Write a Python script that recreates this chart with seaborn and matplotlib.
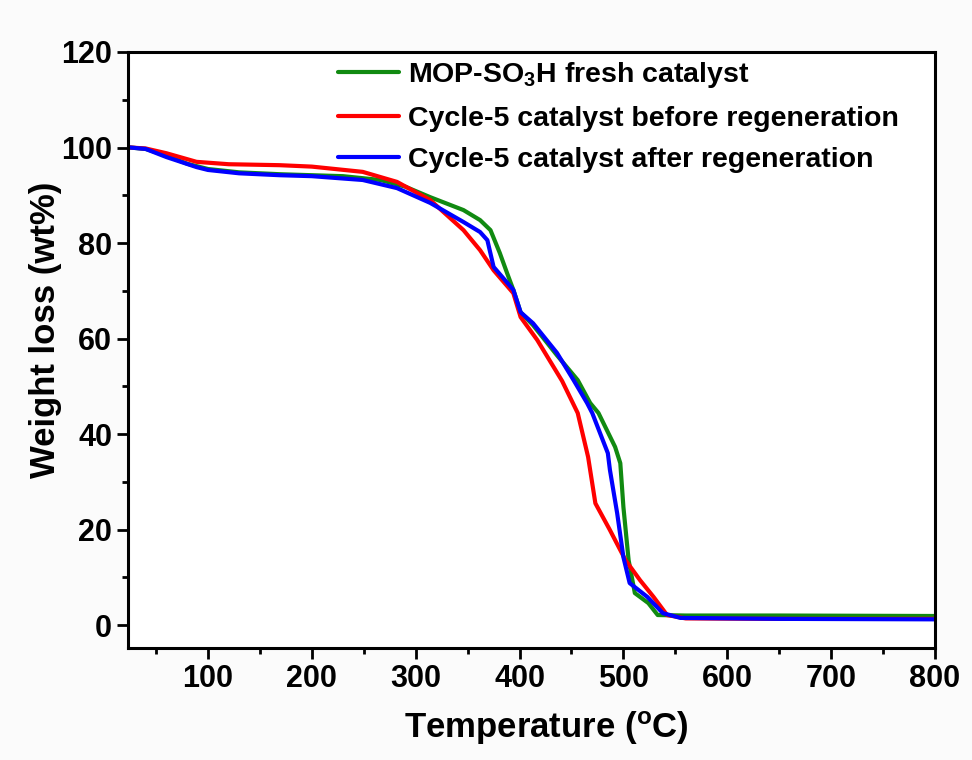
import numpy as np
import pandas as pd
import matplotlib
matplotlib.use("Agg")
import matplotlib.pyplot as plt
import seaborn as sns
from matplotlib.ticker import MultipleLocator

# ---- data ----
labels = ["MOP-SO$_3$H fresh catalyst",
          "Cycle-5 catalyst before regeneration",
          "Cycle-5 catalyst after regeneration"]
colors = ["#118a11", "#ff0000", "#0000ff"]

t_fresh = [25, 40, 60, 80, 100, 130, 170, 200, 230, 266, 290, 314, 346, 362, 372,
           381, 388, 394, 401, 413, 436, 456, 468, 476, 492, 497, 500, 505, 511,
           524, 533, 560, 650, 800]
w_fresh = [100, 99.7, 98.3, 96.6, 95.5, 94.8, 94.4, 94.2, 94.0, 93.2, 91.8, 89.6,
           86.9, 84.8, 82.7, 77.9, 73.7, 70.2, 65.5, 62.8, 56.5, 51.3, 46.5, 44.4,
           37.3, 33.9, 24.7, 13.6, 6.7, 4.6, 2.1, 2.0, 2.0, 1.9]

t_before = [25, 40, 60, 89, 120, 169, 200, 249, 282, 314, 346, 362, 375, 394, 401,
            417, 441, 456, 466, 473, 487, 502, 516, 529, 542, 560, 650, 800]
w_before = [100, 99.8, 98.8, 97.0, 96.5, 96.3, 96.0, 94.9, 92.8, 89.0, 82.7, 78.5,
            74.3, 69.5, 64.5, 59.7, 51.1, 44.4, 35.2, 25.5, 19.9, 13.6, 9.4, 5.9,
            2.1, 1.4, 1.3, 1.3]

t_after = [25, 40, 60, 89, 100, 130, 169, 200, 249, 282, 314, 346, 362, 369, 375,
           394, 401, 413, 436, 452, 465, 470, 485, 487, 494, 500, 506, 523, 538,
           555, 650, 800]
w_after = [100, 99.7, 98.0, 95.9, 95.3, 94.6, 94.2, 94.0, 93.2, 91.5, 88.4, 84.4,
           82.3, 80.6, 75.0, 70.2, 65.5, 63.2, 57.0, 51.3, 46.5, 44.4, 36.0, 32.5,
           23.4, 14.2, 8.8, 5.9, 2.5, 1.5, 1.3, 1.2]

x_ticks = [100, 200, 300, 400, 500, 600, 700, 800]
y_ticks = [0, 20, 40, 60, 80, 100, 120]

df = pd.concat([
    pd.DataFrame({"T": t_fresh, "W": w_fresh, "s": labels[0]}),
    pd.DataFrame({"T": t_before, "W": w_before, "s": labels[1]}),
    pd.DataFrame({"T": t_after, "W": w_after, "s": labels[2]}),
], ignore_index=True)

sns.set_style("white")
plt.rcParams["font.family"] = ["Liberation Sans", "DejaVu Sans"]
plt.rcParams["font.weight"] = "bold"
plt.rcParams["text.color"] = "black"
plt.rcParams["axes.labelcolor"] = "black"
plt.rcParams["xtick.color"] = "black"
plt.rcParams["ytick.color"] = "black"
plt.rcParams["mathtext.fontset"] = "custom"
plt.rcParams["mathtext.rm"] = "Liberation Sans:bold"
plt.rcParams["mathtext.bf"] = "Liberation Sans:bold"
plt.rcParams["mathtext.it"] = "Liberation Sans:bold"

fig = plt.figure(figsize=(9.72, 7.6), dpi=100)
fig.patch.set_facecolor("#fbfbfb")
ax = fig.add_axes([128/972, 1-648/760, (935-128)/972, (648-52)/760])
ax.set_facecolor("white")

sns.lineplot(data=df, x="T", y="W", hue="s", hue_order=labels,
             palette=colors, estimator=None, sort=False, lw=3.0, ax=ax)

ax.set_xlim(23, 800)
ax.set_ylim(-4.8, 120)
ax.set_xticks(x_ticks)
ax.set_yticks(y_ticks)
ax.xaxis.set_minor_locator(MultipleLocator(50))
ax.yaxis.set_minor_locator(MultipleLocator(10))
ax.tick_params(which="major", direction="out", length=8, width=2,
               labelsize=22, bottom=True, left=True, top=False, right=False,
               colors="black")
ax.tick_params(which="minor", direction="out", length=4.5, width=2,
               bottom=True, left=True, top=False, right=False, colors="black")
for lab in ax.get_xticklabels() + ax.get_yticklabels():
    lab.set_fontweight("bold")
for sp in ax.spines.values():
    sp.set_linewidth(2.2)
    sp.set_color("black")

ax.set_xlabel(r"Temperature ($^{\mathrm{o}}$C)", fontsize=25, fontweight="bold",
              color="black")
ax.set_ylabel("Weight loss (wt%)", fontsize=25, fontweight="bold", color="black")
ax.xaxis.set_label_coords(0.518, -0.103)
ax.yaxis.set_label_coords(-0.082, 0.534)

leg = ax.legend(loc="upper left", bbox_to_anchor=(338/972, 1-60/760),
                bbox_transform=fig.transFigure, frameon=False, fontsize=20.5,
                handlelength=2.15, handletextpad=0.3, labelspacing=0.55,
                borderpad=0, borderaxespad=0)
for t in leg.get_texts():
    t.set_fontweight("bold")
    t.set_color("black")
for l in leg.get_lines():
    l.set_linewidth(3.0)

fig.savefig("out.png", dpi=100, facecolor=fig.get_facecolor())
